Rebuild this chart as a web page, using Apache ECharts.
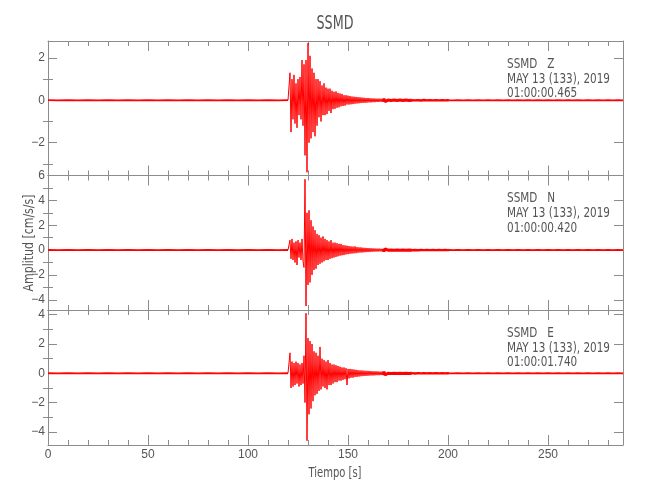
<!DOCTYPE html>
<html>
<head>
<meta charset="utf-8">
<script src="https://cdn.jsdelivr.net/npm/echarts@6/dist/echarts.min.js"></script>
<style>html,body{margin:0;padding:0;background:#fff}#c{width:650px;height:500px}</style>
</head>
<body>
<div id="c"></div>
<script>
// ---- sampling of the traces (seconds) ----
const preStart = 0, preStep = 5;
const eventStart = 121, eventStep = 0.5;
const codaStart = 202.5, codaStep = 2.5;
const timeMax = 287.5;
const xTickLabels = [0, 50, 100, 150, 200, 250];
// strong-motion part drawn with a hairline, the low-level coda as a tapering band
const coreStart = 120, coreEnd = 168, lateCoda = 182, quietStart = 200.5;

// ---- component Z (cm/s/s) ----
const zPre = [0.005,-0.005,0.005,-0.005,0.005,-0.005,0.005,-0.005,0.005,-0.005,0.005,-0.005,0.005,-0.005,0.005,-0.005,0.005,-0.005,0.005,-0.005,0.005,-0.005,0.005,-0.005,0.005];
const zEvent = [
 1.3,-1.5,1.0,-0.9,1.2,-1.1,0.8,-1.3,1.0,-0.7,
 1.1,-0.9,1.9,-1.2,1.7,-2.6,1.9,-3.4,2.7,-2.0,
 2.1,-1.8,1.5,-1.5,1.3,-1.7,1.0,-1.2,1.0,-0.8,
 0.9,-1.0,0.7,-0.7,0.8,-0.7,0.6,-0.65,0.55,-0.5,
 0.55,-0.6,0.45,-0.42,0.4,-0.4,0.42,-0.35,0.35,-0.33,
 0.32,-0.28,0.3,-0.27,0.24,-0.25,0.24,-0.2,0.22,-0.2,
 0.2,-0.19,0.18,-0.18,0.17,-0.16,0.16,-0.15,0.15,-0.14,
 0.14,-0.13,0.13,-0.12,0.12,-0.12,0.11,-0.11,0.11,-0.1,
 0.1,-0.1,0.09,-0.09,0.09,-0.09,0.08,-0.08,0.08,-0.08,
 0.08,-0.07,0.07,-0.07,0.07,-0.06,0.01,-0.01,0.01,-0.01,
 0.01,-0.01,0.01,-0.01,0.01,-0.01,0.01,-0.01,0.01,-0.01,
 0.01,-0.01,0.01,-0.01,0.01,-0.01,0.01,-0.01,0.01,-0.01,
 0.005,-0.005,0.005,-0.005,0.005,-0.005,0.005,-0.005,0.005,-0.005,
 0.005,-0.01,0.02,-0.02,0.015,-0.01,0.005,-0.005,0.005,-0.005,
 0.005,-0.005,0.005,-0.005,0.005,-0.005,0.005,-0.005,0.005,-0.005,
 0.005,-0.005,0.005,-0.005,0.005,-0.005,0.005,-0.005,0.005,-0.005];
const zCoda = [-0.005,0.005,-0.005,0.005,-0.005,0.005,-0.005,0.005,-0.005,0.005,-0.005,0.005,-0.005,0.005,-0.005,0.005,-0.005,0.005,-0.005,0.005,-0.005,0.005,-0.005,0.005,-0.005,0.005,-0.005,0.005,-0.005,0.005,-0.005,0.005,-0.005,0.005,-0.005];

// ---- component N ----
const nPre = [0.005,-0.005,0.005,-0.005,0.005,-0.005,0.005,-0.005,0.005,-0.005,0.005,-0.005,0.005,-0.005,0.005,-0.005,0.005,-0.005,0.005,-0.005,0.005,-0.005,0.005,-0.005,0.005];
const nEvent = [
 0.8,-0.7,0.9,-0.8,0.6,-1.0,0.7,-1.2,0.8,-0.6,
 0.6,-0.8,0.9,-0.9,-1.4,5.7,-4.5,3.0,-2.8,3.2,
 -2.6,2.4,-2.0,1.9,-1.6,1.6,-1.5,1.3,-1.2,1.2,
 -1.1,1.0,-1.0,1.1,-0.9,0.9,-0.8,0.8,-0.8,0.7,
 -0.7,0.8,-0.65,0.6,-0.6,0.6,-0.55,0.55,-0.5,0.5,
 -0.45,0.5,-0.42,0.4,-0.4,0.38,-0.35,0.35,-0.33,0.32,
 -0.3,0.3,-0.28,0.28,-0.26,0.3,-0.25,0.24,-0.22,0.22,
 -0.2,0.22,-0.2,0.19,-0.18,0.18,-0.17,0.17,-0.16,0.16,
 -0.15,0.15,-0.14,0.14,-0.13,0.13,-0.12,0.12,-0.12,0.12,
 -0.11,0.11,-0.11,0.1,-0.1,0.1,-0.01,0.01,-0.01,0.01,
 -0.01,0.01,-0.01,0.01,-0.01,0.01,-0.01,0.01,-0.01,0.01,
 -0.01,0.01,-0.01,0.01,-0.01,0.01,-0.01,0.01,-0.01,0.01,
 -0.01,0.01,-0.01,0.01,-0.01,0.01,-0.01,0.01,-0.01,0.01,
 -0.005,0.005,-0.005,0.005,-0.005,0.005,-0.005,0.005,-0.005,0.005,
 -0.005,0.005,-0.005,0.005,-0.005,0.005,-0.005,0.005,-0.005,0.005,
 -0.005,0.005,-0.005,0.005,-0.005,0.005,-0.005,0.005,-0.005,0.005];
const nCoda = [-0.005,0.005,-0.005,0.005,-0.005,0.005,-0.005,0.005,-0.005,0.005,-0.005,0.005,-0.005,0.005,-0.005,0.005,-0.005,0.005,-0.005,0.005,-0.005,0.005,-0.005,0.005,-0.005,0.005,-0.005,0.005,-0.005,0.005,-0.005,0.005,-0.005,0.005,-0.005];

// ---- component E ----
const ePre = [0.005,-0.005,0.005,-0.005,0.005,-0.005,0.005,-0.005,0.005,-0.005,0.005,-0.005,0.005,-0.005,0.005,-0.005,0.005,-0.005,0.005,-0.005,0.005,-0.005,0.005,-0.005,0.005];
const eEvent = [
 1.4,-1.0,0.8,-0.9,0.7,-0.8,0.8,-0.7,0.7,-0.9,
 0.6,-0.8,0.7,-0.7,1.2,-2.0,4.1,-4.6,2.4,-2.8,
 2.2,-2.4,2.0,-1.9,1.5,-1.5,1.4,-1.4,1.2,-1.2,
 1.8,-1.1,1.0,-0.9,0.9,-1.0,0.8,-1.1,0.9,-0.8,
 0.7,-0.8,0.6,-0.7,0.6,-0.6,0.55,-0.6,0.5,-0.5,
 0.45,-0.5,0.4,-0.45,0.4,-0.4,0.35,-0.8,0.3,-0.35,
 0.3,-0.3,0.28,-0.3,0.26,-0.25,0.24,-0.24,0.22,-0.22,
 0.2,-0.2,0.2,-0.19,0.18,-0.18,0.17,-0.17,0.17,-0.16,
 0.16,-0.15,0.15,-0.15,0.14,-0.14,0.14,-0.13,0.13,-0.13,
 0.12,-0.12,0.12,-0.12,0.11,-0.11,0.01,-0.01,0.01,-0.01,
 0.01,-0.01,0.01,-0.01,0.01,-0.01,0.01,-0.01,0.01,-0.01,
 0.01,-0.01,0.01,-0.01,0.01,-0.01,0.01,-0.01,0.01,-0.01,
 0.01,-0.01,0.01,-0.01,0.01,-0.01,0.01,-0.01,0.01,-0.01,
 0.005,-0.005,0.005,-0.005,0.005,-0.005,0.005,-0.005,0.005,-0.005,
 0.005,-0.005,0.005,-0.005,0.005,-0.005,0.005,-0.005,0.005,-0.005,
 0.005,-0.005,0.005,-0.005,0.005,-0.005,0.005,-0.005,0.005,-0.005];
const eCoda = [-0.005,0.005,-0.005,0.005,-0.005,0.005,-0.005,0.005,-0.005,0.005,-0.005,0.005,-0.005,0.005,-0.005,0.005,-0.005,0.005,-0.005,0.005,-0.005,0.005,-0.005,0.005,-0.005,0.005,-0.005,0.005,-0.005,0.005,-0.005,0.005,-0.005,0.005,-0.005];

// ---- amplitude ranges and ticks per panel ----
const zRange = [-3.55, 2.8], zMajor = [-2, 0, 2], zMinor = [-3, -1, 1];
const nRange = [-4.82, 6], nMajor = [-4, -2, 0, 2, 4, 6], nMinor = [-3, -1, 1, 3, 5];
const eRange = [-4.89, 4.32], eMajor = [-4, -2, 0, 2, 4], eMinor = [-3, -1, 1, 3];

// ---- header texts ----
const stationName = 'SSMD';
const componentLabels = ['SSMD   Z', 'SSMD   N', 'SSMD   E'];
const dateLabel = 'MAY 13 (133), 2019';
const startTimes = ['01:00:00.465', '01:00:00.420', '01:00:01.740'];
const xTitle = 'Tiempo [s]';
const yTitle = 'Amplitud [cm/s/s]';

function buildTrace(pre, ev, coda) {
  const out = [];
  pre.forEach((v, i) => out.push([preStart + i * preStep, v]));
  ev.forEach((v, i) => out.push([eventStart + i * eventStep, v]));
  coda.forEach((v, i) => out.push([codaStart + i * codaStep, v]));
  return out;
}

const FONT = '"DejaVu Sans", sans-serif';
const LABEL_FONT = '"Liberation Sans", Arial, sans-serif';
const TXT = '#555';
const AX = '#8c8c8c';
const TRACE = '#ff0000';

// horizontal squeeze so the wide system font matches the narrow original lettering
const mctx = document.createElement('canvas').getContext('2d');
function squeeze(text, font, targetWidth) {
  mctx.font = font;
  return targetWidth / mctx.measureText(text).width;
}

const panels = [
  { data: buildTrace(zPre, zEvent, zCoda), range: zRange, major: zMajor, minor: zMinor, top: 41, height: 134.5 },
  { data: buildTrace(nPre, nEvent, nCoda), range: nRange, major: nMajor, minor: nMinor, top: 175.5, height: 134.5 },
  { data: buildTrace(ePre, eEvent, eCoda), range: eRange, major: eMajor, minor: eMinor, top: 310, height: 135 }
];

const grid = [], xAxis = [], yAxis = [], series = [];
panels.forEach((p, gi) => {
  grid.push({ left: 48, right: 27, top: p.top, height: p.height, containLabel: false });
  const isBottom = gi === panels.length - 1;
  ['bottom', 'top'].forEach(pos => {
    xAxis.push({
      type: 'value', gridIndex: gi, position: pos, min: 0, max: timeMax, interval: 50,
      axisLine: { show: true, onZero: false, lineStyle: { color: AX, width: 1 } },
      axisTick: { show: true, inside: true, length: 10, lineStyle: { color: AX } },
      minorTick: { show: true, splitNumber: 5, length: 5, lineStyle: { color: AX } },
      splitLine: { show: false },
      axisLabel: { show: isBottom && pos === 'bottom', color: TXT, fontFamily: LABEL_FONT, fontSize: 12, margin: 4,
        customValues: xTickLabels }
    });
  });
  const fmt = v => (v < 0 ? '\u2212' + Math.abs(v) : String(v));
  ['left', 'right'].forEach(pos => {
    yAxis.push({
      type: 'value', gridIndex: gi, position: pos, min: p.range[0], max: p.range[1],
      axisLine: { show: true, onZero: false, lineStyle: { color: AX, width: 1 } },
      axisTick: { show: true, inside: true, length: 9, lineStyle: { color: AX }, customValues: p.major },
      splitLine: { show: false },
      axisLabel: { show: pos === 'left', color: TXT, fontFamily: LABEL_FONT, fontSize: 12, margin: 3,
        customValues: p.major, formatter: fmt }
    });
    yAxis.push({
      type: 'value', gridIndex: gi, position: pos, min: p.range[0], max: p.range[1],
      axisLine: { show: false },
      axisTick: { show: true, inside: true, length: 5, lineStyle: { color: AX }, customValues: p.minor },
      splitLine: { show: false },
      axisLabel: { show: false }
    });
  });
  const segments = [
    { pts: p.data.filter(d => d[0] <= coreStart), width: 1.8 },
    { pts: p.data.filter(d => d[0] >= coreStart && d[0] <= coreEnd), width: 1 },
    { pts: p.data.filter(d => d[0] >= coreEnd - 0.5 && d[0] <= lateCoda), width: 3 },
    { pts: p.data.filter(d => d[0] >= lateCoda && d[0] <= quietStart), width: 2.4 },
    { pts: p.data.filter(d => d[0] >= quietStart), width: 1.8 }
  ];
  segments.forEach(s => series.push({
    type: 'line', xAxisIndex: gi * 2, yAxisIndex: gi * 4, data: s.pts,
    showSymbol: false, symbol: 'none', sampling: null, clip: true,
    lineStyle: { color: TRACE, width: s.width, join: 'bevel', cap: 'butt' }, animation: false, silent: true
  }));
});

const titleFont = '20px ' + FONT, noteFont = '14px ' + FONT;
const graphic = [
  { type: 'text', x: 335, y: 23.5, scaleX: squeeze(stationName, titleFont, 37),
    style: { text: stationName, fill: TXT, font: titleFont, align: 'center', verticalAlign: 'middle' } },
  { type: 'text', x: 29, y: 243, rotation: Math.PI / 2, scaleX: squeeze(yTitle, noteFont, 97),
    style: { text: yTitle, fill: TXT, font: noteFont, align: 'center', verticalAlign: 'middle' } },
  { type: 'text', x: 335, y: 473, scaleX: squeeze(xTitle, noteFont, 53),
    style: { text: xTitle, fill: TXT, font: noteFont, align: 'center', verticalAlign: 'middle' } }
];
const noteScale = squeeze(dateLabel, noteFont, 103);
panels.forEach((p, i) => {
  graphic.push({ type: 'text', x: 507, y: p.top + 16, scaleX: noteScale,
    style: { text: [componentLabels[i], dateLabel, startTimes[i]].join('\n'), fill: TXT, font: noteFont, lineHeight: 14.7, align: 'left', verticalAlign: 'top' } });
});

const chart = echarts.init(document.getElementById('c'), null, { renderer: 'canvas' });
chart.setOption({ animation: false, backgroundColor: '#fff', grid, xAxis, yAxis, series, graphic });
</script>
</body>
</html>
